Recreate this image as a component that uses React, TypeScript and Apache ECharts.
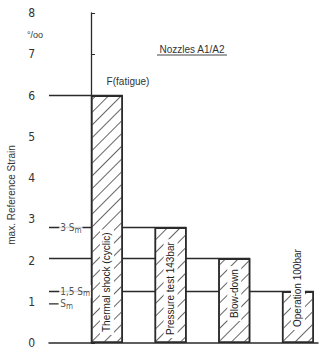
import React, { useEffect, useRef } from 'react';
import * as echarts from 'echarts';

const categories = ['Thermal shock (cyclic)', 'Pressure test 143bar', 'Blow-down', 'Operation 100bar'];
const strains = [6, 2.8, 2.05, 1.25];
const refNames = ['3 S', '1,5 S', 'S'];
const refValues = [2.8, 1.25, 0.95];
const yTickValues = [0, 1, 2, 3, 4, 5, 6, 7, 8];

const X_MIN = -1.32;
const X_MAX = 7.13;
const labelLift = [8, 5, 22, 13];
const INK = '#2a2a2a';
const FONT = 'Liberation Sans, Arial, sans-serif';
const NARROW = 'DejaVu Sans Condensed, Liberation Sans Narrow, sans-serif';

export default function App() {
  const ref = useRef<HTMLDivElement>(null);
  useEffect(() => {
    if (!ref.current) return;
    const chart = echarts.init(ref.current, undefined, { renderer: 'svg' });

    const levelSeries = strains.map((v, i) => ({
      type: 'line',
      z: 1,
      symbol: 'none',
      silent: true,
      lineStyle: { color: INK, width: 1.5 },
      data: [[X_MIN, v], [2 * i + 1, v]],
    }));

    const smDash = {
      type: 'line',
      z: 1,
      symbol: 'none',
      lineStyle: { color: INK, width: 1.3 },
      data: [[X_MIN, refValues[2]], [X_MIN + 0.3, refValues[2]]],
    };

    const option: any = {
      animation: false,
      grid: { left: 49, right: 2, top: 13, bottom: 2, containLabel: false },
      xAxis: {
        type: 'value',
        min: X_MIN,
        max: X_MAX,
        axisLine: { show: true, lineStyle: { color: INK, width: 1.5 } },
        axisTick: { show: false },
        axisLabel: { show: false },
        splitLine: { show: false },
      },
      yAxis: {
        type: 'value',
        min: 0,
        max: 8,
        interval: 1,
        axisLine: { show: true, lineStyle: { color: INK, width: 1.3 } },
        axisTick: { show: true, inside: true, length: 4, lineStyle: { color: INK } },
        axisLabel: {
          color: '#333',
          fontFamily: NARROW,
          fontSize: 12,
          margin: 14,
          formatter: (v: number) => (yTickValues.includes(v) ? String(v) : ''),
        },
        splitLine: { show: false },
      },
      graphic: [
        {
          type: 'text', x: 11, y: 195, rotation: Math.PI / 2,
          style: { text: 'max. Reference Strain', fill: '#333', font: `10px ${FONT}`, align: 'center', verticalAlign: 'middle' },
        },
        {
          type: 'text', x: 35, y: 35,
          style: { text: '°/oo', fill: '#333', font: `9px ${FONT}`, align: 'center', verticalAlign: 'middle' },
        },
        {
          type: 'text', x: 192, y: 49,
          style: { text: 'Nozzles A1/A2', fill: '#333', font: `10px ${FONT}`, align: 'center', verticalAlign: 'middle' },
        },
        { type: 'line', shape: { x1: 157, y1: 55, x2: 227, y2: 55 }, style: { stroke: '#444', lineWidth: 1 } },
        {
          type: 'text', x: 128, y: 81,
          style: { text: 'F(fatigue)', fill: '#333', font: `10px ${FONT}`, align: 'center', verticalAlign: 'middle' },
        },
      ],
      series: [
        ...levelSeries,
        smDash,
        {
          type: 'bar',
          z: 3,
          barWidth: 32,
          label: {
            show: true,
            backgroundColor: '#fff',
            padding: [2, 3, 2, 3],
          },
          data: strains.map((v, i) => ({
            value: [2 * i + 0.5, v],
            name: categories[i],
            label: {
              show: true,
              position: 'insideBottom',
              distance: labelLift[i],
              rotate: 90,
              align: 'left',
              verticalAlign: 'middle',
              formatter: categories[i],
              color: '#222',
              fontFamily: FONT,
              fontSize: 10,
              backgroundColor: '#ffffff',
              padding: [2, 3, 2, 3],
            },
          })),
          itemStyle: {
            color: '#fff',
            borderColor: INK,
            borderWidth: 1.5,
            decal: {
              symbol: 'rect',
              symbolSize: 1,
              color: '#666',
              dashArrayX: [1, 0],
              dashArrayY: [1, 8],
              rotation: -Math.PI / 4,
            },
          },
        },
        {
          type: 'scatter',
          z: 4,
          symbolSize: 0,
          data: refValues.map((v, i) => ({
            value: [X_MIN + 0.32, v],
            label: {
              show: true,
              position: 'right',
              distance: 0,
              formatter: `{t|${refNames[i]}}{m|m}`,
              backgroundColor: '#fff',
              padding: [0, 1, 0, 1],
              rich: {
                t: { fontSize: 10, fontFamily: NARROW, color: '#222' },
                m: { fontSize: 8, fontFamily: NARROW, color: '#222', padding: [5, 0, 0, 0] },
              },
            },
          })),
        },
      ],
    };
    chart.setOption(option);
    return () => chart.dispose();
  }, []);
  return <div ref={ref} style={{ width: 320, height: 349, position: 'absolute', left: 0, top: 0, background: '#fff' }} />;
}
